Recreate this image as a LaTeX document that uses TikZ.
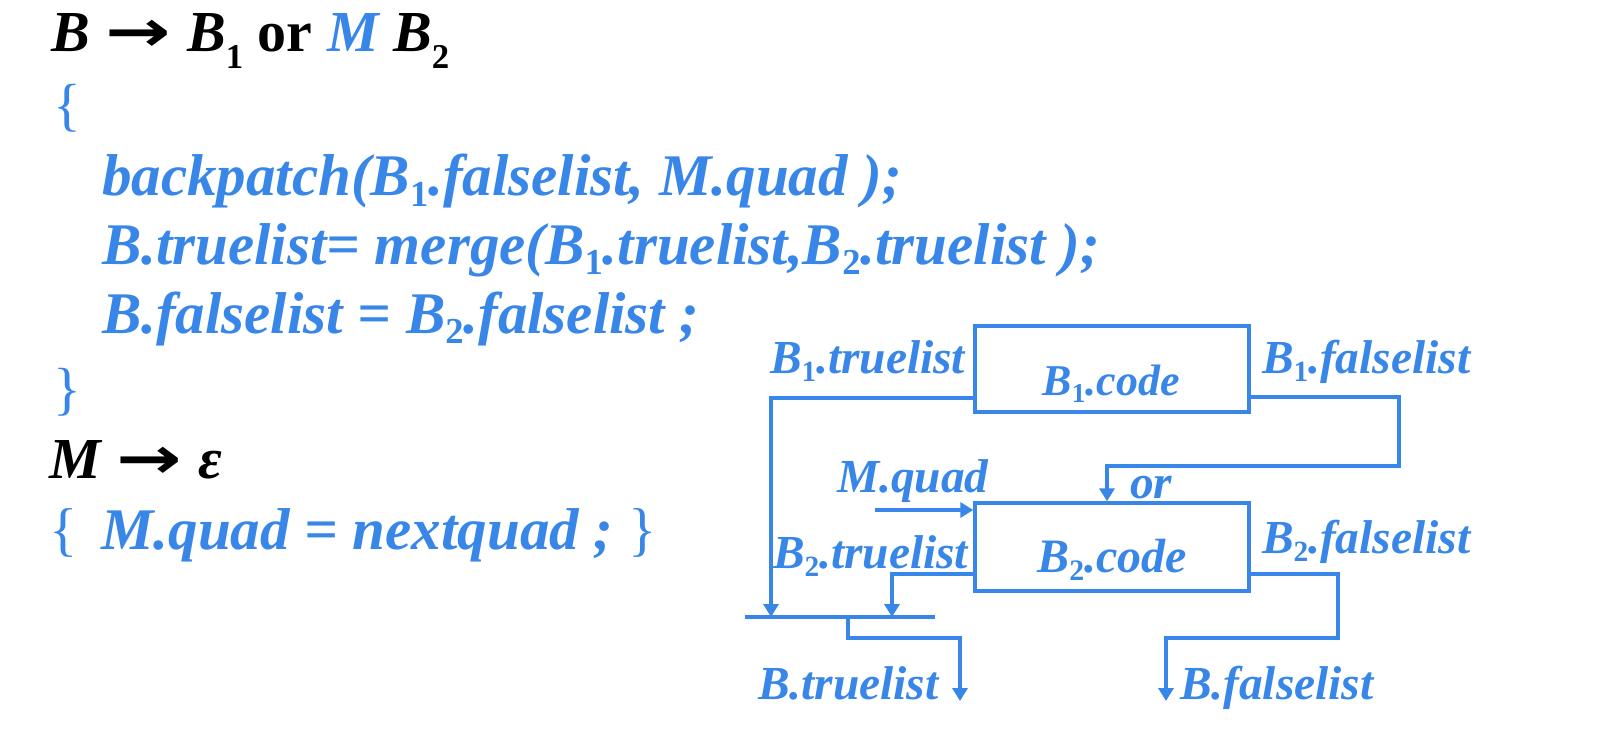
\documentclass[tikz,border=0pt]{standalone}
\usepackage{fontspec}
\setmainfont{Liberation Serif}
\newfontfamily\arrowfont{DejaVu Sans}
\usetikzlibrary{arrows.meta}
\definecolor{codeblue}{RGB}{55,134,232}
% upright subscripts for the attribute names
\newcommand{\sbs}[1]{\raisebox{-0.17em}{\scalebox{0.62}{\upshape #1}}}
\newcommand{\sbsH}[1]{\raisebox{-0.28em}{\scalebox{0.6}{\upshape #1}}}
\newcommand{\prodarrow}{\hspace{8pt}\scalebox{1.35}[1]{\arrowfont\bfseries →}\hspace{8pt}}
\begin{document}
\begin{tikzpicture}[x=0.5pt,y=-0.5pt,
  head/.style={anchor=base west, inner sep=0pt, outer sep=0pt,
    font=\fontsize{29}{33}\selectfont\bfseries\itshape, text=black},
  code/.style={anchor=base west, inner sep=0pt, outer sep=0pt,
    font=\fontsize{29.5}{34}\selectfont\bfseries\itshape, text=codeblue},
  brace/.style={anchor=base west, inner sep=0pt, outer sep=0pt,
    font=\fontsize{29}{33}\selectfont, text=codeblue},
  lbl/.style={anchor=base west, inner sep=0pt, outer sep=0pt,
    font=\fontsize{23.7}{28}\selectfont\bfseries\itshape, text=codeblue},
  codebox/.style={draw=codeblue, line width=1.7pt, inner sep=0pt,
    minimum width=137pt},
  wire/.style={draw=codeblue, line width=1.7pt},
  arr/.style={wire, -{Triangle[length=6.5pt,width=7.5pt]}},
  joinbar/.style={draw=codeblue, line width=2.2pt}]
\useasboundingbox (0,0) rectangle (1616,754);

% ---- semantic rules ----
\node[head] (p1) at (51,52) {B\prodarrow B\sbsH{1} \textup{or} \textcolor{codeblue}{M} B\sbsH{2}};
\node[brace] (ob1) at (54,125) {\{};
\node[code] (c1) at (102,196) {backpatch(B\sbs{1}.falselist, M.quad );};
\node[code] (c2) at (102,264) {B.truelist= merge(B\sbs{1}.truelist,B\sbs{2}.truelist );};
\node[code] (c3) at (102,333) {B.falselist = B\sbs{2}.falselist ;};
\node[brace] (cb1) at (54,408) {\}};
\node[head] (p2) at (49,478) {M\prodarrow ε};
\node[code] (c4) at (49,549) {{\normalfont\{}\hspace{12pt}M.quad = nextquad ; {\normalfont\}}};

% ---- code layout ----
\node[codebox, minimum height=43pt] (b1) at (1112,369) {};
\node[codebox, minimum height=44pt] (b2) at (1112,547) {};
\node[lbl, anchor=base, font=\fontsize{22}{26}\selectfont\bfseries\itshape] (b1code) at (1111,395) {B\sbs{1}.code};
\node[lbl, anchor=base, font=\fontsize{24}{28}\selectfont\bfseries\itshape] (b2code) at (1112,572) {B\sbs{2}.code};

\node[lbl] (l1t) at (770,373) {B\sbs{1}.truelist};
\node[lbl] (l1f) at (1262,373) {B\sbs{1}.falselist};
\node[lbl] (lmq) at (837,492) {M.quad};
\node[lbl] (lor) at (1130,498) {or};
\node[lbl] (l2t) at (773,568) {B\sbs{2}.truelist};
\node[lbl] (l2f) at (1262,553) {B\sbs{2}.falselist};
\node[lbl] (lbt) at (758,699) {B.truelist};
\node[lbl] (lbf) at (1180,699) {B.falselist};

% junction bar collecting the true exits
\coordinate (barL) at (745,617);
\coordinate (barR) at (935,617);
\draw[joinbar] (barL) -- (barR);

% B1.truelist
\coordinate (j1) at (771,398);
\draw[arr] ([yshift=-14.5pt]b1.west) -- (j1) -- (j1 |- barL);
% B1.falselist -> start of B2
\coordinate (f1) at (1399,397);
\coordinate (f1b) at (1107,466);
\draw[arr] ([yshift=-14pt]b1.east) -- (f1) -- (f1 |- f1b) -- (f1b) -- (f1b |- b2.north);
% M.quad
\coordinate (mq) at (875,510);
\draw[arr] (mq) -- (mq -| b2.west);
% B2.truelist
\coordinate (j2) at (892,574);
\draw[arr] ([yshift=-13.5pt]b2.west) -- (j2) -- (j2 |- barL);
% B.truelist
\coordinate (s0) at (848,617);
\coordinate (s1) at (848,638);
\coordinate (s2) at (960,701);
\draw[arr] (s0) -- (s1) -- (s1 -| s2) -- (s2);
% B2.falselist -> B.falselist
\coordinate (f2) at (1338,574);
\coordinate (f2b) at (1166,638);
\coordinate (f2e) at (1166,701);
\draw[arr] ([yshift=-13.5pt]b2.east) -- (f2) -- (f2 |- f2b) -- (f2b) -- (f2e);
\end{tikzpicture}
\end{document}
